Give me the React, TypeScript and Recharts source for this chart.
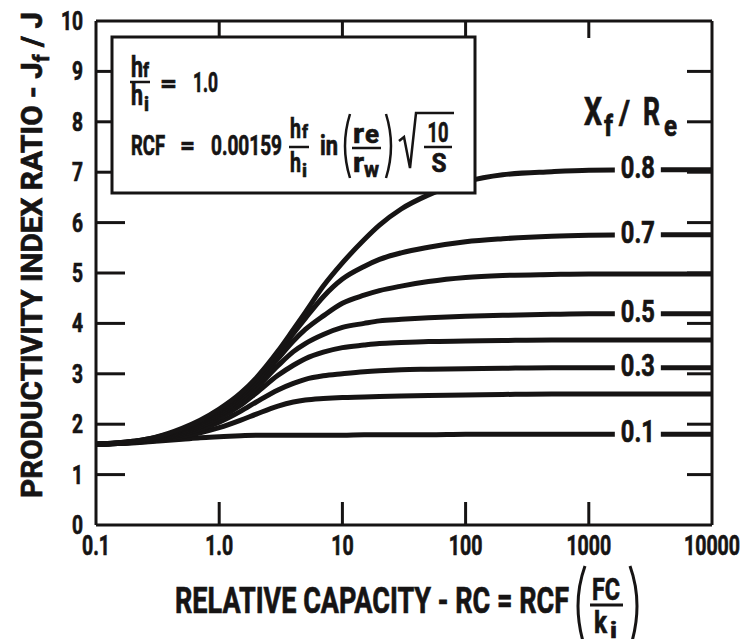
import React from "react";
import { Line, LineChart, XAxis, YAxis } from "recharts";

// relative capacity (x, log scale)
const RC = [0.1, 0.2, 0.3, 0.5, 0.7, 1, 1.5, 2, 3, 4, 5, 7, 10, 15, 20, 30, 50, 100, 200, 500, 1000, 2500, 10000];

// productivity index ratio Jf/J for each Xf/Re
const J_01 = [1.6, 1.63, 1.66, 1.7, 1.73, 1.75, 1.77, 1.78, 1.78, 1.78, 1.78, 1.78, 1.78, 1.79, 1.79, 1.79, 1.79, 1.8, 1.8, 1.8, 1.8, 1.8, 1.8];
const J_02 = [1.6, 1.63, 1.67, 1.76, 1.83, 1.93, 2.08, 2.2, 2.36, 2.44, 2.48, 2.51, 2.53, 2.54, 2.55, 2.56, 2.57, 2.58, 2.59, 2.6, 2.6, 2.6, 2.6];
const J_03 = [1.6, 1.64, 1.69, 1.8, 1.9, 2.04, 2.26, 2.44, 2.68, 2.81, 2.89, 2.96, 3.0, 3.04, 3.06, 3.08, 3.09, 3.1, 3.11, 3.12, 3.12, 3.12, 3.12];
const J_04 = [1.6, 1.64, 1.7, 1.83, 1.95, 2.12, 2.38, 2.62, 2.97, 3.17, 3.3, 3.43, 3.52, 3.57, 3.6, 3.62, 3.64, 3.65, 3.66, 3.67, 3.67, 3.67, 3.67];
const J_05 = [1.6, 1.65, 1.71, 1.86, 1.99, 2.18, 2.46, 2.72, 3.16, 3.44, 3.6, 3.78, 3.92, 4.0, 4.05, 4.08, 4.11, 4.14, 4.16, 4.18, 4.19, 4.19, 4.19];
const J_06 = [1.6, 1.65, 1.72, 1.88, 2.03, 2.22, 2.52, 2.8, 3.3, 3.65, 3.88, 4.15, 4.4, 4.56, 4.65, 4.74, 4.83, 4.91, 4.95, 4.97, 4.98, 4.98, 4.98];
const J_07 = [1.6, 1.66, 1.73, 1.9, 2.06, 2.26, 2.57, 2.86, 3.38, 3.8, 4.1, 4.53, 4.88, 5.13, 5.27, 5.4, 5.51, 5.62, 5.68, 5.73, 5.75, 5.76, 5.76];
const J_08 = [1.6, 1.66, 1.74, 1.92, 2.08, 2.3, 2.62, 2.92, 3.45, 3.88, 4.22, 4.74, 5.2, 5.66, 5.95, 6.27, 6.55, 6.81, 6.95, 7.01, 7.04, 7.05, 7.05];

const SERIES = [
  { key: "s01", name: "0.1", values: J_01, labelled: true },
  { key: "s02", name: "0.2", values: J_02, labelled: false },
  { key: "s03", name: "0.3", values: J_03, labelled: true },
  { key: "s04", name: "0.4", values: J_04, labelled: false },
  { key: "s05", name: "0.5", values: J_05, labelled: true },
  { key: "s06", name: "0.6", values: J_06, labelled: false },
  { key: "s07", name: "0.7", values: J_07, labelled: true },
  { key: "s08", name: "0.8", values: J_08, labelled: true },
];

const X_TICKS = [0.1, 1, 10, 100, 1000, 10000];
const X_TICK_LABELS = ["0.1", "1.0", "10", "100", "1000", "10000"];
const Y_TICKS = [0, 1, 2, 3, 4, 5, 6, 7, 8, 9, 10];
const LABEL_AT = 2500;

const data = RC.map((x, i) => {
  const row: Record<string, number> = { x };
  SERIES.forEach((s) => (row[s.key] = s.values[i]));
  return row;
});

const INK = "#161414";
const FONT = 'Roboto, "DejaVu Sans", sans-serif';

// width of a numeric label in a condensed face
const numLen = (s: string, digit: number) =>
  s.split("").reduce((a, c) => a + (c === "." ? digit * 0.5 : digit), 0);

const T = ({ x, y, size, len, anchor = "start", transform, children }: any) => (
  <text
    x={x}
    y={y}
    fontSize={size}
    textAnchor={anchor}
    textLength={len}
    lengthAdjust={len ? "spacingAndGlyphs" : undefined}
    transform={transform}
    fontFamily={FONT}
    fontWeight="bold"
    fill={INK}
    stroke={INK}
    strokeWidth={0.7}
  >
    {children}
  </text>
);

const BottomTick = (props: any) => {
  const { x, y, payload } = props;
  const inner = payload.value > 0.1 && payload.value < 10000;
  const label = X_TICK_LABELS[X_TICKS.indexOf(payload.value)] ?? "";
  return (
    <g>
      {inner && <line x1={x} x2={x} y1={y} y2={y - 23} stroke={INK} strokeWidth={3} />}
      <T x={x} y={y + 30} size={28} len={numLen(label, 11.2)} anchor="middle">
        {label}
      </T>
    </g>
  );
};

const TopTick = (props: any) => {
  const { x, y, payload } = props;
  if (payload.value <= 0.1 || payload.value >= 10000) return <g />;
  return <line x1={x} x2={x} y1={y} y2={y + 17} stroke={INK} strokeWidth={3} />;
};

const LeftTick = (props: any) => {
  const { x, y, payload } = props;
  const inner = payload.value > 0 && payload.value < 10;
  const label = String(payload.value);
  return (
    <g>
      {inner && <line x1={x} x2={x + 29} y1={y} y2={y} stroke={INK} strokeWidth={3} />}
      <T x={x - 13} y={y + 9} size={26} len={numLen(label, 11)} anchor="end">
        {label}
      </T>
    </g>
  );
};

const RightTick = (props: any) => {
  const { x, y, payload } = props;
  if (payload.value <= 0 || payload.value >= 10) return <g />;
  return <line x1={x} x2={x - 25} y1={y} y2={y} stroke={INK} strokeWidth={3} />;
};

const curveLabel = (name: string, show: boolean) => (props: any) => {
  const { cx, cy, payload, index } = props;
  if (!show || payload.x !== LABEL_AT) return <g key={`d-${index}`} />;
  return (
    <g key={`d-${index}`}>
      <rect x={cx - 23} y={cy - 6} width={46} height={12} fill="#fff" />
      <T x={cx} y={cy + 8} size={31} len={34} anchor="middle">
        {name}
      </T>
    </g>
  );
};

const Annotations = () => (
  <svg width={744} height={639} style={{ position: "absolute", left: 0, top: 0, pointerEvents: "none" }}>
    {/* y title */}
    <T x={0} y={0} size={30} len={486} anchor="middle" transform="translate(42,255) rotate(-90)">
      PRODUCTIVITY INDEX RATIO - J<tspan fontSize={22} dy={7}>f</tspan>
      <tspan dy={-7}> / J</tspan>
    </T>

    {/* x title */}
    <T x={175} y={613} size={37} len={394}>
      RELATIVE CAPACITY - RC  = RCF
    </T>
    <path d="M585,566 Q571,605 585,648" stroke={INK} strokeWidth={3} fill="none" />
    <T x={606} y={600} size={32} len={28} anchor="middle">FC</T>
    <line x1={590} x2={623} y1={605} y2={605} stroke={INK} strokeWidth={3} />
    <T x={594} y={633} size={32} len={13}>k</T>
    <T x={610} y={638} size={22} len={7}>i</T>
    <path d="M630,566 Q644,605 630,648" stroke={INK} strokeWidth={3} fill="none" />

    {/* Xf / Re */}
    <T x={584} y={125} size={38} len={18}>X</T>
    <T x={604} y={136} size={30} len={9}>f</T>
    <T x={619} y={124} size={34} len={11}>/</T>
    <T x={643} y={125} size={38} len={17}>R</T>
    <T x={664} y={136} size={30} len={13}>e</T>

    {/* inset box */}
    <rect x={112} y={37} width={363} height={156} fill="#fff" stroke={INK} strokeWidth={3} />
    <T x={131} y={77} size={29} len={12}>h</T>
    <T x={143} y={77} size={20} len={6}>f</T>
    <line x1={130} x2={150} y1={82} y2={82} stroke={INK} strokeWidth={2.5} />
    <T x={131} y={105} size={29} len={12}>h</T>
    <T x={144} y={111} size={20} len={5}>i</T>
    <T x={160} y={92} size={26} len={17}>=</T>
    <T x={193} y={92} size={27} len={25}>1.0</T>

    <T x={131} y={155} size={28} len={34}>RCF</T>
    <T x={180} y={154} size={26} len={15}>=</T>
    <T x={211} y={155} size={28} len={71}>0.00159</T>
    <T x={290} y={138} size={28} len={11}>h</T>
    <T x={302} y={138} size={19} len={6}>f</T>
    <line x1={289} x2={309} y1={147} y2={147} stroke={INK} strokeWidth={2.5} />
    <T x={290} y={172} size={28} len={11}>h</T>
    <T x={302} y={177} size={19} len={5}>i</T>
    <T x={320} y={155} size={27} len={18}>in</T>
    <path d="M350,114 Q340,146 350,178" stroke={INK} strokeWidth={2.5} fill="none" />
    <T x={353} y={143} size={27} len={11}>r</T>
    <T x={365} y={143} size={26} len={14}>e</T>
    <line x1={352} x2={381} y1={148} y2={148} stroke={INK} strokeWidth={2.5} />
    <T x={353} y={172} size={27} len={11}>r</T>
    <T x={364} y={177} size={22} len={15}>w</T>
    <path d="M386,114 Q396,146 386,178" stroke={INK} strokeWidth={2.5} fill="none" />
    <path d="M399,141 L404,137 L410,168 L416,113 L454,113" stroke={INK} strokeWidth={2.5} fill="none" />
    <T x={438} y={142} size={27} len={21} anchor="middle">10</T>
    <line x1={424} x2={452} y1={147} y2={147} stroke={INK} strokeWidth={2.5} />
    <T x={439} y={172} size={26} len={15} anchor="middle">S</T>
  </svg>
);

export default function App() {
  const axisLine = { stroke: INK, strokeWidth: 3 };
  return (
    <div style={{ position: "relative", width: 744, height: 639, background: "#fff" }}>
      <style>{"body{margin:0;background:#fff}"}</style>
      <LineChart width={744} height={639} data={data} margin={{ top: 0, right: 0, bottom: 0, left: 0 }}>
        <XAxis
          dataKey="x"
          type="number"
          scale="log"
          domain={[0.1, 10000]}
          ticks={X_TICKS}
          interval={0}
          allowDataOverflow
          height={114}
          tickSize={0}
          tickMargin={0}
          tickLine={false}
          axisLine={axisLine}
          tick={BottomTick}
        />
        <XAxis
          xAxisId="top"
          orientation="top"
          dataKey="x"
          type="number"
          scale="log"
          domain={[0.1, 10000]}
          ticks={X_TICKS}
          interval={0}
          allowDataOverflow
          height={21}
          tickSize={0}
          tickMargin={0}
          tickLine={false}
          axisLine={axisLine}
          tick={TopTick}
        />
        <YAxis
          type="number"
          domain={[0, 10]}
          ticks={Y_TICKS}
          interval={0}
          allowDataOverflow
          width={96}
          tickSize={0}
          tickMargin={0}
          tickLine={false}
          axisLine={axisLine}
          tick={LeftTick}
        />
        <YAxis
          yAxisId="right"
          orientation="right"
          type="number"
          domain={[0, 10]}
          ticks={Y_TICKS}
          interval={0}
          allowDataOverflow
          width={32}
          tickSize={0}
          tickMargin={0}
          tickLine={false}
          axisLine={axisLine}
          tick={RightTick}
        />
        {SERIES.map((s) => (
          <Line
            key={s.key}
            dataKey={s.key}
            type="monotone"
            stroke={INK}
            strokeWidth={5}
            dot={curveLabel(s.name, s.labelled)}
            activeDot={false}
            isAnimationActive={false}
          />
        ))}
      </LineChart>
      <Annotations />
    </div>
  );
}
